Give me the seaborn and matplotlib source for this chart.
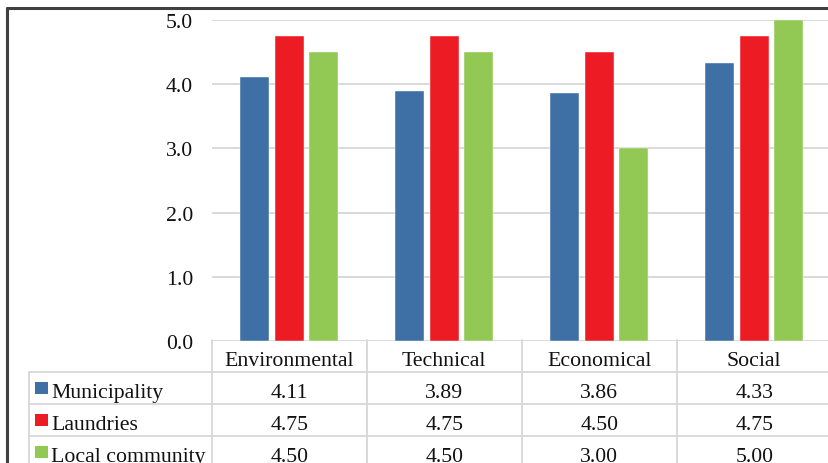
import matplotlib
matplotlib.use("Agg")
import matplotlib.pyplot as plt
import matplotlib.transforms as mtransforms
from matplotlib.lines import Line2D
import seaborn as sns
import pandas as pd

categories = ["Environmental", "Technical", "Economical", "Social"]
groups = ["Municipality", "Laundries", "Local community"]
municipality = [4.11, 3.89, 3.86, 4.33]
laundries = [4.75, 4.75, 4.50, 4.75]
local_community = [4.50, 4.50, 3.00, 5.00]
yticks = [0.0, 1.0, 2.0, 3.0, 4.0, 5.0]
colors = ["#3E70A6", "#ED1C24", "#92C954"]

series = [municipality, laundries, local_community]
df = pd.DataFrame([
    {"cat": c, "group": g, "val": v}
    for g, vals in zip(groups, series)
    for c, v in zip(categories, vals)
])

W, H = 829, 464
sns.set_theme(style="white")
plt.rcParams["font.family"] = ["Liberation Serif", "DejaVu Serif"]
FS = 15.7
TC = "#111111"

fig = plt.figure(figsize=(W / 100, H / 100), dpi=100)

def fx(px):
    return px / W

def fy(py):
    return 1 - py / H

left_px, right_px = 211.7, 831.7
top_px, bot_px = 20.7, 342.2
ax = fig.add_axes([fx(left_px), fy(bot_px), fx(right_px - left_px), (bot_px - top_px) / H])

sns.barplot(data=df, x="cat", y="val", hue="group", order=categories,
            hue_order=groups, palette=colors, saturation=1, width=0.667, gap=0.17,
            legend=False, ax=ax, zorder=3)
for p in ax.patches:
    p.set_edgecolor("#ffffff")
    p.set_linewidth(0.3)

ax.set_ylim(0, 5)
ax.set_xlim(-0.5, len(categories) - 0.5)
ax.set_yticks(yticks)
ax.set_yticklabels([f"{t:.1f}" for t in yticks], fontsize=FS, color=TC)
ax.set_xticks([])
ax.set_xlabel("")
ax.set_ylabel("")
for s in ax.spines.values():
    s.set_visible(False)
ax.yaxis.grid(True, color="#d9d9d9", linewidth=1.4, zorder=0)
ax.set_axisbelow(True)
ax.tick_params(axis="y", length=0, pad=13.5)

# figure border (top and left)
fig.add_artist(Line2D([fx(7), fx(7)], [fy(9), fy(470)], color="#404040", lw=2.2))
fig.add_artist(Line2D([fx(7), fx(835)], [fy(9), fy(9)], color="#404040", lw=2.2))

# data table
grid_c = "#d9d9d9"
blend = mtransforms.blended_transform_factory(ax.transData, fig.transFigure)
row_lines = [372.7, 404.7, 436.5]
for yl in row_lines:
    fig.add_artist(Line2D([fx(29), fx(835)], [fy(yl), fy(yl)], color=grid_c, lw=1.4))
fig.add_artist(Line2D([fx(29), fx(29)], [fy(372.7), fy(470)], color=grid_c, lw=1.4))
for i in range(len(categories) + 1):
    xb = i - 0.5
    fig.add_artist(Line2D([xb, xb], [fy(341), fy(470)], color=grid_c, lw=1.4,
                          transform=blend))

header_base = 366
for i, c in enumerate(categories):
    fig.text(i, fy(header_base), c, transform=blend, ha="center", va="baseline",
             fontsize=FS, color=TC)

row_bases = [398, 430, 462]
for g, vals, col, yb in zip(groups, series, colors, row_bases):
    fig.patches.append(plt.Rectangle((fx(35), fy(yb - 3)), fx(13.5), 12 / H,
                                     transform=fig.transFigure, facecolor=col,
                                     edgecolor="none"))
    fig.text(fx(51), fy(yb), g, ha="left", va="baseline", fontsize=FS, color=TC)
    for i, v in enumerate(vals):
        fig.text(i, fy(yb), f"{v:.2f}", transform=blend, ha="center", va="baseline",
                 fontsize=FS, color=TC)

fig.savefig("out.png", dpi=100)
